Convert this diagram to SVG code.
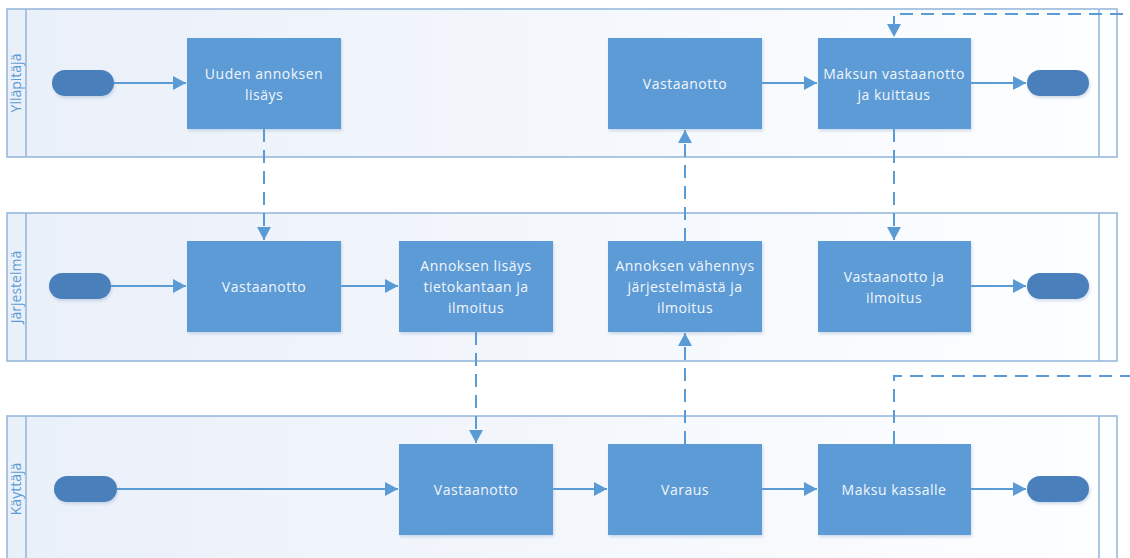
<svg xmlns="http://www.w3.org/2000/svg" width="1130" height="558" viewBox="0 0 1130 558">
<defs>
<linearGradient id="laneFill" x1="0" y1="0" x2="1" y2="0">
<stop offset="0" stop-color="#eaf0f9"/>
<stop offset="1" stop-color="#fdfeff"/>
</linearGradient>
<filter id="sh" x="-10%" y="-10%" width="125%" height="130%">
<feDropShadow dx="1" dy="2" stdDeviation="1.5" flood-color="#7f9cc0" flood-opacity="0.35"/>
</filter>
<marker id="ah" markerWidth="14" markerHeight="14" refX="13" refY="7" orient="auto" markerUnits="userSpaceOnUse">
<path d="M0,0 L13,7 L0,14 Z" fill="#5b9bd5"/>
</marker>
<style>
.lane{fill:url(#laneFill);stroke:#92b4da;stroke-width:1.5}
.lbl{fill:none;stroke:#92b4da;stroke-width:1.5}
.lt{font-family:"Open Sans","Noto Sans",sans-serif;font-size:14px;fill:#5b9bd5;text-anchor:middle}
.box{fill:#5b9bd5;filter:url(#sh)}
.term{fill:#4a80bc;filter:url(#sh)}
.bt{font-family:"Open Sans","Noto Sans",sans-serif;font-size:14px;fill:#f2f6fb;text-anchor:middle;letter-spacing:0.5px}
.c{fill:none;stroke:#5b9bd5;stroke-width:2}
.d{fill:none;stroke:#5b9bd5;stroke-width:2;stroke-dasharray:13 8}
</style>
</defs>

<g id="lanes">
<g id="lane-yllapitaja">
<rect class="lane" x="7" y="9" width="1110" height="148"/>
<line class="lbl" x1="26" y1="9" x2="26" y2="157"/>
<line class="lbl" x1="1099" y1="9" x2="1099" y2="157"/>
<text class="lt" transform="translate(21,83) rotate(-90)">Ylläpitäjä</text>
</g>
<g id="lane-jarjestelma">
<rect class="lane" x="7" y="213" width="1110" height="148"/>
<line class="lbl" x1="26" y1="213" x2="26" y2="361"/>
<line class="lbl" x1="1099" y1="213" x2="1099" y2="361"/>
<text class="lt" transform="translate(21,287) rotate(-90)">Järjestelmä</text>
</g>
<g id="lane-kayttaja">
<rect class="lane" x="7" y="416" width="1110" height="160"/>
<line class="lbl" x1="26" y1="416" x2="26" y2="558"/>
<line class="lbl" x1="1099" y1="416" x2="1099" y2="558"/>
<text class="lt" transform="translate(21,489) rotate(-90)">Käyttäjä</text>
</g>
</g>

<g id="connectors">
<path class="c" d="M114,83 H186" marker-end="url(#ah)"/>
<path class="d" d="M264,129 V240" marker-end="url(#ah)"/>
<path class="c" d="M111,286 H186" marker-end="url(#ah)"/>
<path class="c" d="M341,286 H398" marker-end="url(#ah)"/>
<path class="d" d="M476,332 V443" marker-end="url(#ah)"/>
<path class="c" d="M117,489 H398" marker-end="url(#ah)"/>
<path class="c" d="M553,489 H607" marker-end="url(#ah)"/>
<path class="d" d="M685,444 V333" marker-end="url(#ah)"/>
<path class="d" d="M685,241 V130" marker-end="url(#ah)"/>
<path class="c" d="M762,83 H817" marker-end="url(#ah)"/>
<path class="c" d="M971,83 H1026" marker-end="url(#ah)"/>
<path class="d" d="M894,129 V240" marker-end="url(#ah)"/>
<path class="c" d="M971,286 H1026" marker-end="url(#ah)"/>
<path class="c" d="M762,489 H817" marker-end="url(#ah)"/>
<path class="c" d="M971,489 H1026" marker-end="url(#ah)"/>
<path class="d" d="M894,444 V376 H1130"/>
<path class="d" d="M1123,14 H894 V37" marker-end="url(#ah)"/>
</g>

<g id="start-1"><rect class="term" x="52" y="70" width="62" height="26" rx="13"/></g>
<g id="start-2"><rect class="term" x="49" y="273" width="62" height="26" rx="13"/></g>
<g id="start-3"><rect class="term" x="54" y="476" width="63" height="26" rx="13"/></g>
<g id="end-1"><rect class="term" x="1027" y="70" width="62" height="26" rx="13"/></g>
<g id="end-2"><rect class="term" x="1027" y="273" width="62" height="26" rx="13"/></g>
<g id="end-3"><rect class="term" x="1027" y="476" width="62" height="26" rx="13"/></g>

<g id="uuden-annoksen-lisays">
<rect class="box" x="187" y="38" width="154" height="91"/>
<text class="bt" x="264" y="79">Uuden annoksen</text>
<text class="bt" x="264" y="100">lisäys</text>
</g>
<g id="vastaanotto-yllapitaja">
<rect class="box" x="608" y="38" width="154" height="91"/>
<text class="bt" x="685" y="89">Vastaanotto</text>
</g>
<g id="maksun-vastaanotto">
<rect class="box" x="818" y="38" width="153" height="91"/>
<text class="bt" x="894" y="79">Maksun vastaanotto</text>
<text class="bt" x="894" y="100">ja kuittaus</text>
</g>
<g id="vastaanotto-jarjestelma">
<rect class="box" x="187" y="241" width="154" height="91"/>
<text class="bt" x="264" y="292">Vastaanotto</text>
</g>
<g id="annoksen-lisays">
<rect class="box" x="399" y="241" width="154" height="91"/>
<text class="bt" x="476" y="271">Annoksen lisäys</text>
<text class="bt" x="476" y="292">tietokantaan ja</text>
<text class="bt" x="476" y="313">ilmoitus</text>
</g>
<g id="annoksen-vahennys">
<rect class="box" x="608" y="241" width="154" height="91"/>
<text class="bt" x="685" y="271">Annoksen vähennys</text>
<text class="bt" x="685" y="292">järjestelmästä ja</text>
<text class="bt" x="685" y="313">ilmoitus</text>
</g>
<g id="vastaanotto-ja-ilmoitus">
<rect class="box" x="818" y="241" width="153" height="91"/>
<text class="bt" x="894" y="282">Vastaanotto ja</text>
<text class="bt" x="894" y="303">ilmoitus</text>
</g>
<g id="vastaanotto-kayttaja">
<rect class="box" x="399" y="444" width="154" height="91"/>
<text class="bt" x="476" y="495">Vastaanotto</text>
</g>
<g id="varaus">
<rect class="box" x="608" y="444" width="154" height="91"/>
<text class="bt" x="685" y="495">Varaus</text>
</g>
<g id="maksu-kassalle">
<rect class="box" x="818" y="444" width="153" height="91"/>
<text class="bt" x="894" y="495">Maksu kassalle</text>
</g>
</svg>
